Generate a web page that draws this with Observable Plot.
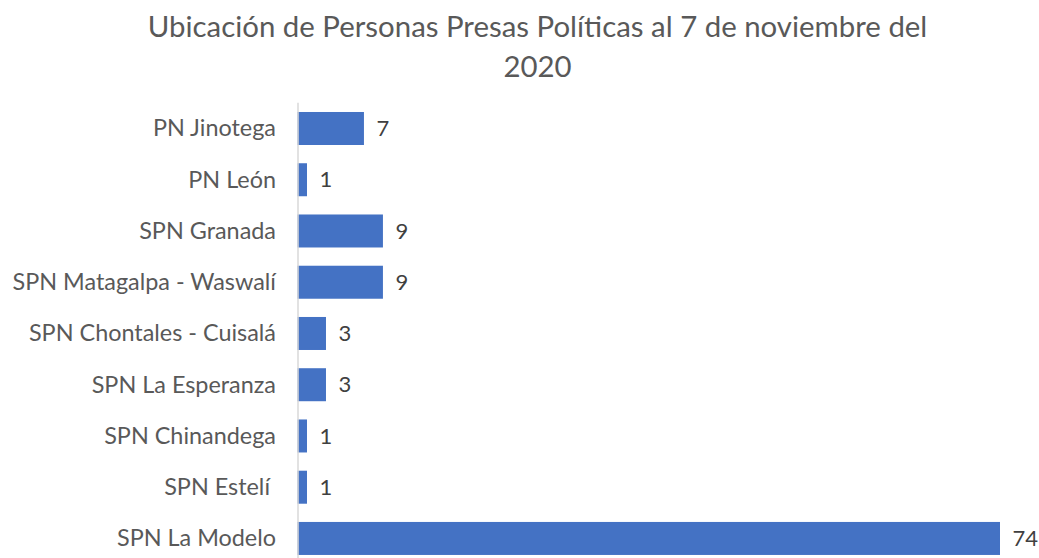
<!DOCTYPE html>
<html>
<head>
<meta charset="utf-8">
<script src="https://cdn.jsdelivr.net/npm/d3@7"></script>
<script src="https://cdn.jsdelivr.net/npm/@observablehq/plot@0.6"></script>
<style>
  html, body { margin: 0; padding: 0; background: #fff; overflow: hidden; }
  #title { width: 1039px; height: 90px; text-align: center; font-family: Lato, sans-serif; font-size: 29.4px; font-weight: 400; color: #595959; line-height: 40px; padding-top: 6px; padding-left: 36px; box-sizing: border-box; }
  #chart svg { display: block; }
</style>
</head>
<body>
<div id="title">Ubicación de Personas Presas Políticas al 7 de noviembre del<br>2020</div>
<div id="chart"></div>
<script>
const categories = ["PN Jinotega", "PN León", "SPN Granada", "SPN Matagalpa - Waswalí", "SPN Chontales - Cuisalá", "SPN La Esperanza", "SPN Chinandega", "SPN Estelí ", "SPN La Modelo"];
const values = [7, 1, 9, 9, 3, 3, 1, 1, 74];
const data = categories.map((c, i) => ({ category: c, value: values[i] }));

const chart = Plot.plot({
  width: 1039,
  height: 490,
  marginLeft: 297.5,
  marginRight: 39,
  marginTop: 3.75,
  marginBottom: 6.8,
  style: { fontFamily: "Lato, sans-serif", fontSize: "23.4px", color: "#595959", background: "#fff" },
  x: { domain: [0, 74], axis: null },
  y: { domain: categories, padding: 0.356, round: false, label: null, tickSize: 0, tickPadding: 22 },
  marks: [
    Plot.barX(data, { x: "value", y: "category", fill: "#4472C4" }),
    Plot.ruleX([0], { stroke: "#d9d9d9", strokeWidth: 1.5, insetTop: 9 }),
    Plot.text(data, { x: "value", y: "category", text: d => String(d.value), dx: 12, textAnchor: "start", fill: "#404040", fontSize: 22 })
  ]
});
document.getElementById("chart").appendChild(chart);
</script>
</body>
</html>
